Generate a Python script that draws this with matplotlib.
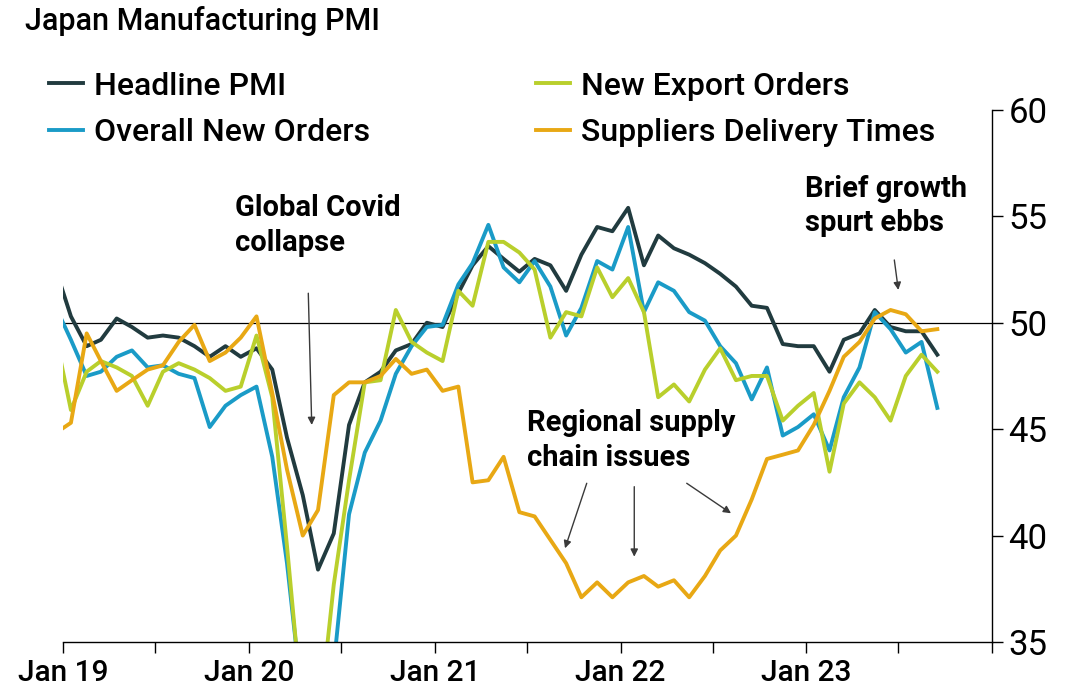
import pandas as pd
import matplotlib
matplotlib.use('Agg')
import matplotlib.pyplot as plt
import matplotlib.dates as mdates
from matplotlib.ticker import FixedLocator, FuncFormatter

plt.rcParams['font.family'] = ['Roboto', 'DejaVu Sans']

# monthly readings, Dec 2018 .. Sep 2023
months = pd.date_range('2018-12-01', '2023-09-01', freq='MS') + pd.Timedelta(days=15)

headline = [52.6,
            50.3, 48.9, 49.2, 50.2, 49.8, 49.3, 49.4, 49.3, 48.9, 48.4, 48.9, 48.4,
            48.8, 47.8, 44.6, 41.9, 38.4, 40.1, 45.2, 47.2, 47.7, 48.7, 49.0, 50.0,
            49.8, 51.4, 52.7, 53.6, 53.0, 52.4, 53.0, 52.7, 51.5, 53.2, 54.5, 54.3,
            55.4, 52.7, 54.1, 53.5, 53.2, 52.8, 52.3, 51.7, 50.8, 50.7, 49.0, 48.9,
            48.9, 47.7, 49.2, 49.5, 50.6, 49.8, 49.6, 49.6, 48.5]

new_orders = [50.8,
              49.2, 47.5, 47.7, 48.4, 48.7, 47.9, 48.0, 47.6, 47.4, 45.1, 46.1, 46.6,
              47.0, 43.7, 38.7, 32.0, 30.0, 33.9, 41.0, 43.9, 45.4, 47.6, 48.9, 49.8,
              49.9, 51.8, 52.8, 54.6, 52.6, 51.9, 52.9, 51.7, 49.4, 50.7, 52.9, 52.5,
              54.5, 50.5, 51.9, 51.5, 50.5, 50.1, 48.9, 48.1, 46.4, 47.9, 44.7, 45.1,
              45.7, 44.0, 46.5, 47.9, 50.5, 49.7, 48.6, 49.1, 46.0]

export_orders = [49.5,
                 45.9, 47.7, 48.2, 47.9, 47.5, 46.1, 47.7, 48.1, 47.8, 47.4, 46.8, 47.0,
                 49.4, 46.5, 39.5, 31.5, 30.8, 37.7, 42.6, 47.2, 47.3, 50.6, 49.1, 48.6,
                 48.2, 51.5, 50.8, 53.8, 53.8, 53.3, 52.5, 49.3, 50.5, 50.3, 52.6, 51.2,
                 52.1, 50.5, 46.5, 47.1, 46.3, 47.8, 48.8, 47.3, 47.5, 47.5, 45.4, 46.1,
                 46.7, 43.0, 46.2, 47.2, 46.5, 45.4, 47.5, 48.5, 47.7]

delivery_times = [44.8,
                  45.3, 49.5, 48.2, 46.8, 47.3, 47.8, 48.0, 49.1, 49.9, 48.2, 48.6, 49.3,
                  50.3, 46.7, 43.1, 40.0, 41.2, 46.6, 47.2, 47.2, 47.5, 48.3, 47.6, 47.8,
                  46.8, 47.0, 42.5, 42.6, 43.7, 41.1, 40.9, 39.8, 38.7, 37.1, 37.8, 37.1,
                  37.8, 38.1, 37.6, 37.9, 37.1, 38.1, 39.3, 40.0, 41.7, 43.6, 43.8, 44.0,
                  45.2, 46.8, 48.4, 49.1, 50.2, 50.6, 50.4, 49.6, 49.7]

series = [('Headline PMI', headline, '#213b3f'),
          ('Overall New Orders', new_orders, '#1a9bc7'),
          ('New Export Orders', export_orders, '#b9cf2c'),
          ('Suppliers Delivery Times', delivery_times, '#e8a814')]

fig = plt.figure(figsize=(10.69, 6.95), dpi=100)
ax = fig.add_axes([0.0592, 0.0763, 0.8685, 0.7655])

lines = []
for name, vals, col in series:
    ln, = ax.plot(months, vals, color=col, lw=2.8, label=name)
    lines.append(ln)

ax.axhline(50, color='black', lw=0.9, zorder=1)

ax.set_xlim(pd.Timestamp('2019-01-01'), pd.Timestamp('2024-01-01'))
ax.set_ylim(35, 60)

ax.xaxis.set_major_locator(mdates.YearLocator())
ax.xaxis.set_minor_locator(mdates.MonthLocator(bymonth=7))
# no label under the closing Jan 24 tick
ax.xaxis.set_major_formatter(FuncFormatter(
    lambda v, p: '' if mdates.num2date(v).year >= 2024 else mdates.num2date(v).strftime('Jan %y')))
ax.tick_params(axis='x', which='both', length=8, width=1, direction='out',
               labelsize=21.5, pad=4)
for lbl in ax.get_xticklabels():
    lbl.set_fontweight('medium')

ax.yaxis.tick_right()
ax.yaxis.set_major_locator(FixedLocator([35, 40, 45, 50, 55, 60]))
ax.tick_params(axis='y', length=8, width=1, direction='out', labelsize=25, pad=4)

for s in ['top', 'left']:
    ax.spines[s].set_visible(False)
ax.spines['right'].set_linewidth(1)
ax.spines['bottom'].set_linewidth(1)

fig.text(25 / 1069, 1 - 30 / 695, 'Japan Manufacturing PMI', fontsize=22,
         fontweight='medium', va='baseline')

fig.legend(handles=lines, loc='upper left', bbox_to_anchor=(0.046, 0.897), ncol=2,
           frameon=False, handlelength=1.05, handletextpad=0.35,
           columnspacing=5.2, labelspacing=0.55, borderpad=0, borderaxespad=0,
           prop={'weight': 'medium', 'size': 23})

# annotations
arrow = dict(arrowstyle='-|>', color='#3a3a3a', lw=1, mutation_scale=11, shrinkA=0, shrinkB=0)
note = dict(transform=ax.transAxes, fontsize=21, fontweight='bold', va='top', linespacing=1.3)

ax.text(0.1849, 0.842, 'Global Covid\ncollapse', **note)
ax.annotate('', xy=(0.2676, 0.4079), xytext=(0.2639, 0.6555),
            xycoords='axes fraction', textcoords='axes fraction', arrowprops=arrow)

ax.text(0.500, 0.438, 'Regional supply\nchain issues', **note)
for start, end in [((0.5638, 0.2983), (0.5404, 0.1761)),
                   ((0.6150, 0.2919), (0.6150, 0.1603)),
                   ((0.6715, 0.2983), (0.7192, 0.2419))]:
    ax.annotate('', xy=end, xytext=start, xycoords='axes fraction',
                textcoords='axes fraction', arrowprops=arrow)

ax.text(0.7990, 0.878, 'Brief growth\nspurt ebbs', **note)
ax.annotate('', xy=(0.8994, 0.6617), xytext=(0.8951, 0.7180),
            xycoords='axes fraction', textcoords='axes fraction', arrowprops=arrow)

fig.savefig('out.png', dpi=100)
